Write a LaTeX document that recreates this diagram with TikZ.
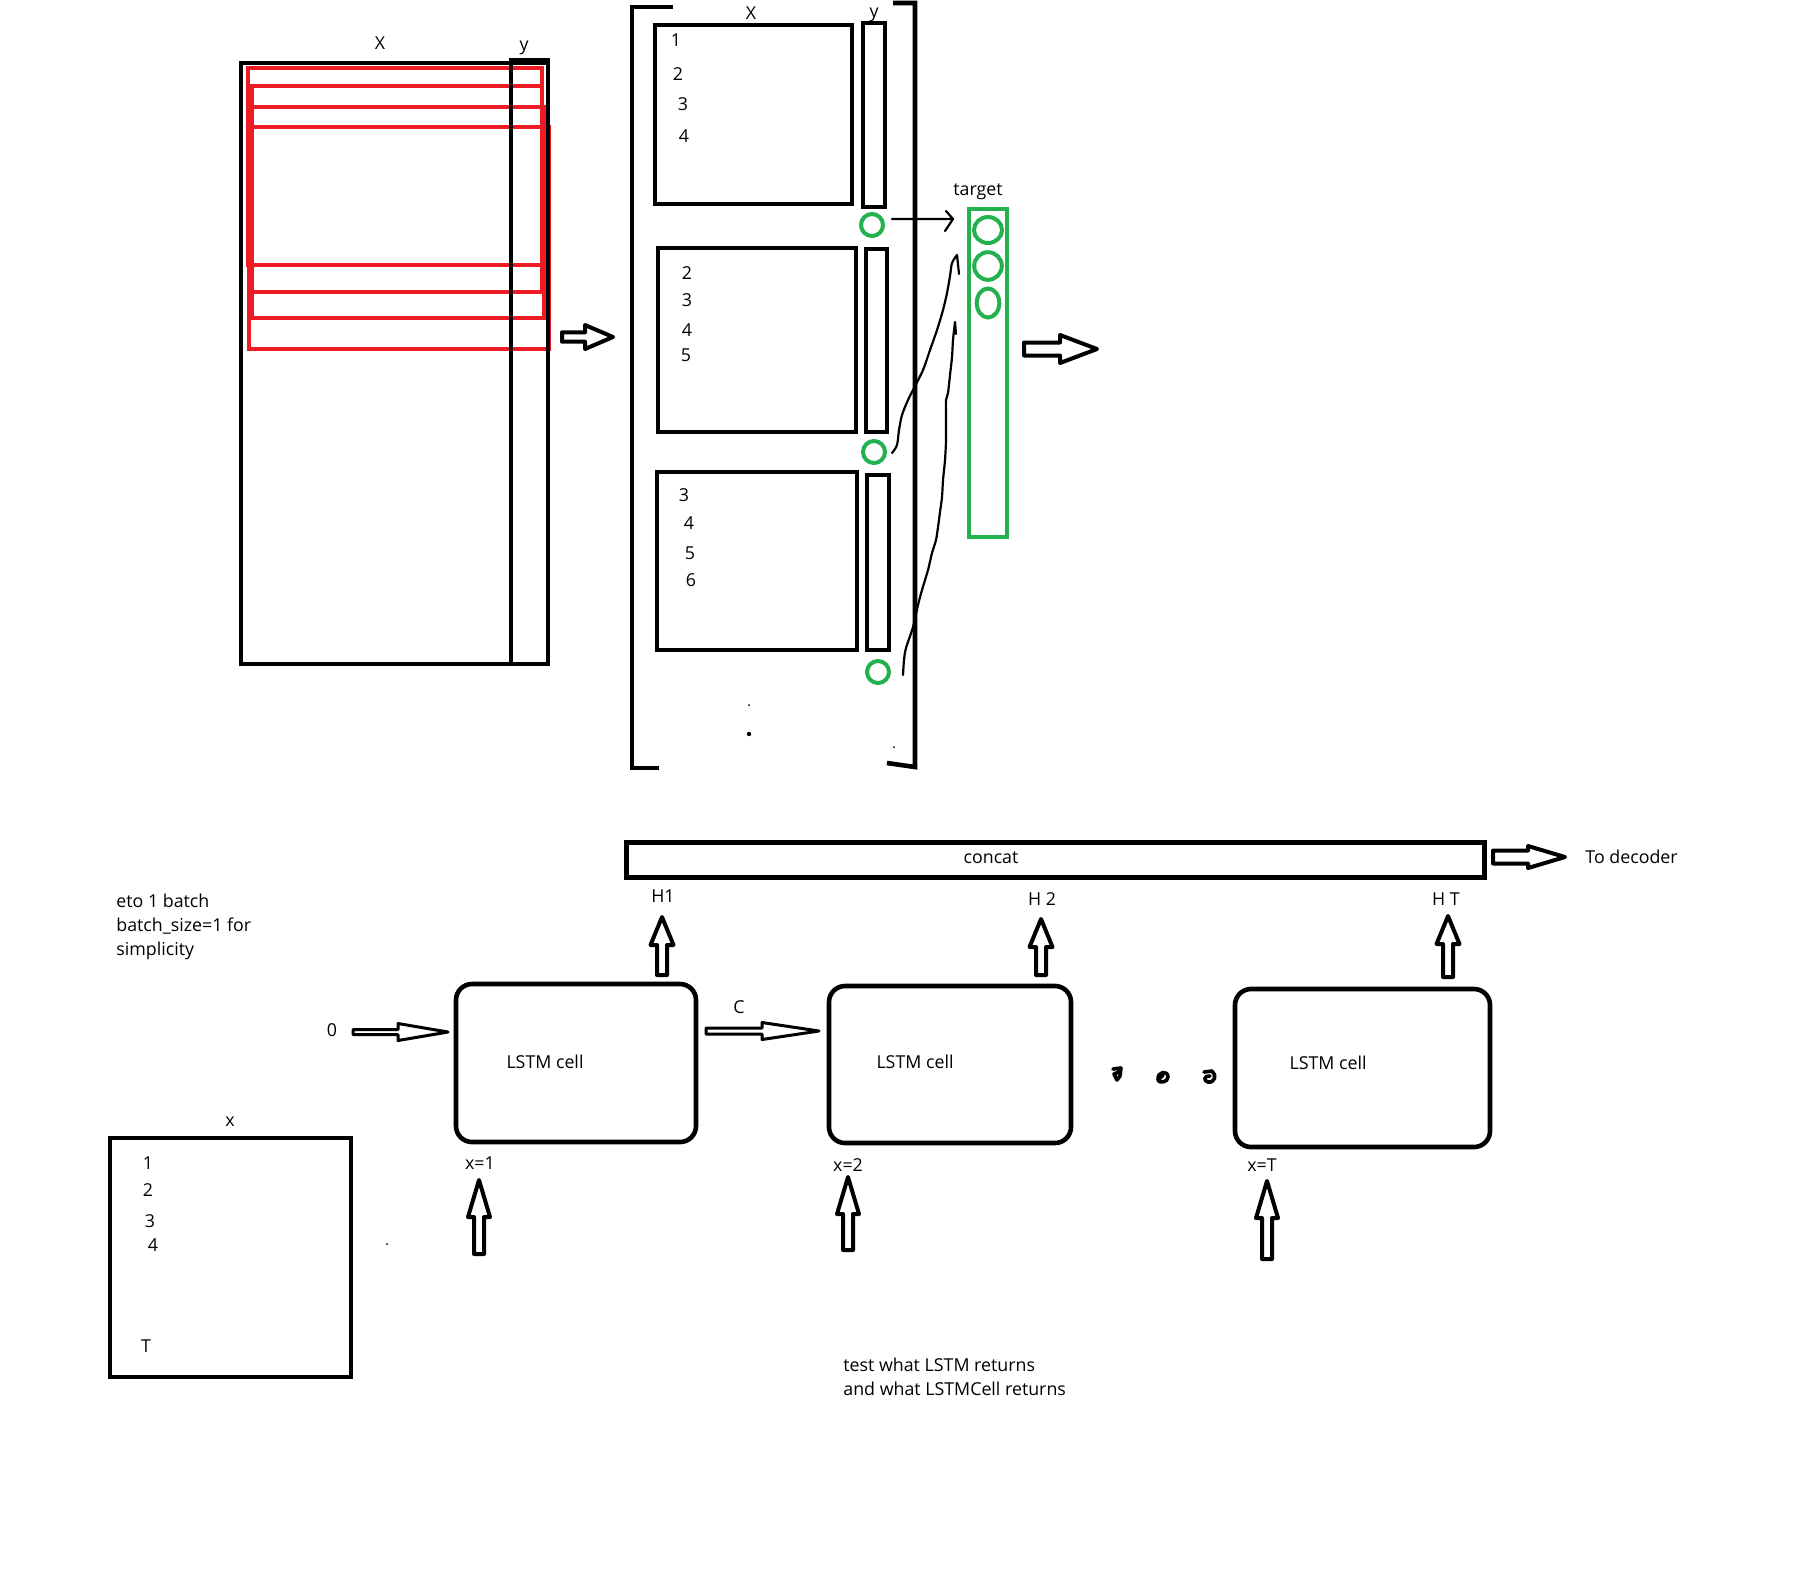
\documentclass[tikz,border=0pt]{standalone}
\usepackage{fontspec}
\setmainfont{Open Sans}
\usetikzlibrary{fit,shapes.geometric}
\definecolor{pred}{RGB}{237,28,36}
\definecolor{pgreen}{RGB}{34,177,76}

\tikzset{
  blk/.style={draw=black, line width=2.3pt, inner sep=0pt, outer sep=0pt},
  redbox/.style={draw=pred, line width=2.1pt, inner sep=0pt, outer sep=0pt},
  gline/.style={draw=pgreen, line width=2pt, inner sep=0pt, outer sep=0pt},
  gcirc/.style={gline, circle, minimum size=11pt},
  gell/.style={gline, ellipse},
  cell/.style={draw=black, line width=2.3pt, rounded corners=8pt, inner sep=0pt},
  lbl/.style={inner sep=0pt, font=\fontsize{8.9}{12}\selectfont},
  hand/.style={draw=black, line width=1.1pt, line cap=round, line join=round},
  arrowline/.style={draw=black, fill=white, line width=2pt, line join=round},
  thinarrow/.style={arrowline, line width=1.5pt},
  % hollow block arrow: length, shaft half-width, head half-width, head length
  pics/blockarrow/.style n args={4}{code={
    \path[pic actions] (0,-#2) -- ({#1-#4},-#2) -- ({#1-#4},-#3) -- (#1,0)
      -- ({#1-#4},#3) -- ({#1-#4},#2) -- (0,#2) -- cycle;}},
}

\begin{document}
\begin{tikzpicture}[x=0.5pt, y=-0.5pt]
\useasboundingbox (0,0) rectangle (1802,1587);
\fill[white] (0,0) rectangle (1802,1587);

% ---------- data matrix with sliding windows ----------
\node[redbox, fit={(248,68)(542,265)}] (w1) {};
\node[redbox, fit={(252,86)(542,292)}] (w2) {};
\node[redbox, fit={(252,107)(544,318)}] (w3) {};
\node[redbox, fit={(249,127)(549,349)}] (w4) {};
\node[blk, fit={(241,63)(548,664)}] (mat) {};
\node[blk, fit={(511,60)(548,664)}] (matY) {};
\node[lbl] (matXl) at (380,43) {X};
\node[lbl] (matYl) at (524,48) {y};

% ---------- batch of windows ----------
\draw[blk] (673,7) -- (632,7) -- (632,768) -- (659,768);
\draw[blk] (893,3) -- (915,3) -- (915,767) -- (887,763);

\node[blk, fit={(655,25)(852,204)}] (b1) {};
\node[blk, fit={(863,23)(885,207)}] (y1) {};
\node[blk, fit={(658,248)(856,432)}] (b2) {};
\node[blk, fit={(866,249)(887,432)}] (y2) {};
\node[blk, fit={(657,472)(857,650)}] (b3) {};
\node[blk, fit={(867,475)(889,650)}] (y3) {};

\node[lbl] (bXl) at (751,13) {X};
\node[lbl] (bYl) at (874,15) {y};

\node[lbl] (n11) at (676,40) {1};
\node[lbl] (n12) at (678,74) {2};
\node[lbl] (n13) at (683,104) {3};
\node[lbl] (n14) at (684,136) {4};
\node[lbl] (n21) at (687,273) {2};
\node[lbl] (n22) at (687,300) {3};
\node[lbl] (n23) at (687,330) {4};
\node[lbl] (n24) at (686,355) {5};
\node[lbl] (n31) at (684,495) {3};
\node[lbl] (n32) at (689,523) {4};
\node[lbl] (n33) at (690,553) {5};
\node[lbl] (n34) at (691,580) {6};

\node[gcirc] (g1) at (872,225) {};
\node[gcirc] (g2) at (874,452) {};
\node[gcirc] (g3) at (878,672) {};

\fill (749,705) circle (1);
\fill (749,734) circle (2.2);
\fill (894,747) circle (1);

% ---------- target column ----------
\node[lbl] (tgtl) at (978,192) {target};
\node[gline, line width=2.4pt, fit={(969,209)(1007,537)}] (tgt) {};
\node[gell, minimum width=14pt, minimum height=13pt] (t1) at (988,230) {};
\node[gell, minimum width=13.8pt, minimum height=13.8pt] (t2) at (988,266) {};
\node[gell, minimum width=11.3pt, minimum height=14.5pt] (t3) at (988,303) {};

\coordinate (a1s) at (892,219);
\coordinate (a1e) at (953,219);
\draw[hand] (a1s) -- (a1e) (946,211) -- (a1e) -- (945,231);

\coordinate (c2s) at (892,453);
\coordinate (c2e) at (957,255);
\draw[hand] plot[smooth, tension=0.5] coordinates {(892,453) (897,445) (899,430) (902,415)
  (908,400) (914,388) (923,370) (930,350) (937,330) (943,310) (947,293) (950,276)
  (952,263) (957,255)} -- (959,274);

\coordinate (c3s) at (903,675);
\draw[hand] plot[smooth, tension=0.5] coordinates {(903,675) (904,660) (906,648) (913,627)
  (918,605) (922,590) (928,570) (932,553) (936,540) (938,527) (940,512) (942,497)
  (943,480) (945,460) (946,440) (946,420) (946,400) (948,393) (950,375) (952,357)
  (953,340) (955,322)} -- (956,334);

% ---------- hollow arrows, upper part ----------
\pic[arrowline] at (562,337) {blockarrow={51}{4.7}{12}{28}};
\pic[arrowline] at (1024,349) {blockarrow={73}{6.5}{14}{37}};

% ---------- encoder ----------
\node[draw=black, line width=2.5pt, inner sep=0pt, fit={(626,842)(1484,877)}] (concat) {};
\node[lbl] (concatl) at (991,858) {concat};
\pic[arrowline] at (1493,857) {blockarrow={72}{6.5}{11}{37}};
\node[lbl, anchor=west] (dec) at (1585,857) {To decoder};

\node[lbl] (h1) at (663,896) {H1};
\node[lbl] (h2) at (1042,899) {H 2};
\node[lbl] (hT) at (1446,899) {H T};
\pic[arrowline, rotate=90] at (662,975) {blockarrow={58}{5}{11.5}{28}};
\pic[arrowline, rotate=90] at (1041,975) {blockarrow={56}{5}{11.5}{28}};
\pic[arrowline, rotate=90] at (1448,977) {blockarrow={61}{5}{11.5}{28}};

\node[lbl, anchor=north west, align=left] (note) at (116,894)
  {eto 1 batch\\batch\_size=1 for\\simplicity};

\node[cell, fit={(456,984)(696,1142)}] (cell1) {};
\node[cell, fit={(829,986)(1071,1143)}] (cell2) {};
\node[cell, fit={(1235,989)(1490,1147)}] (cell3) {};
\node[lbl] (cl1) at (545,1062) {LSTM cell};
\node[lbl] (cl2) at (915,1062) {LSTM cell};
\node[lbl] (cl3) at (1328,1063) {LSTM cell};

\node[lbl] (zero) at (332,1030) {0};
\pic[thinarrow] at (353,1032) {blockarrow={95}{2.5}{8.5}{50}};
\node[lbl] (cee) at (739,1007) {C};
\pic[thinarrow] at (706,1031) {blockarrow={113}{3}{8.5}{57}};

% hand-drawn ellipsis between the cells
\draw[hand, line width=1.8pt] (1113,1069) -- (1121,1068) -- (1120,1076) -- (1117,1080)
  -- (1114,1074) -- (1119,1072);
\draw[hand, line width=1.8pt] (1158,1080) .. controls (1157,1071) and (1168,1070) .. (1168,1077)
  .. controls (1168,1083) and (1158,1083) .. (1158,1080) -- (1163,1075);
\draw[hand, line width=1.8pt] (1204,1072) -- (1212,1071) .. controls (1217,1075) and (1215,1083) .. (1208,1082)
  .. controls (1203,1081) and (1204,1075) .. (1210,1076);

\node[lbl] (x1) at (480,1163) {x=1};
\node[lbl] (x2) at (848,1165) {x=2};
\node[lbl] (xT) at (1262,1165) {x=T};
\pic[arrowline, rotate=90] at (479,1254) {blockarrow={74}{5}{11}{37}};
\pic[arrowline, rotate=90] at (848,1250) {blockarrow={73}{5}{11}{37}};
\pic[arrowline, rotate=90] at (1267,1259) {blockarrow={78}{5}{11}{37}};

% ---------- input sequence ----------
\node[lbl] (xl) at (230,1122) {x};
\node[blk, fit={(110,1138)(351,1377)}] (xbox) {};
\node[lbl] (s1) at (148,1163) {1};
\node[lbl] (s2) at (148,1190) {2};
\node[lbl] (s3) at (150,1221) {3};
\node[lbl] (s4) at (153,1245) {4};
\node[lbl] (sT) at (146,1346) {T};
\fill (387,1244) circle (1);

\node[lbl, anchor=north west, align=left] (test) at (843,1358)
  {test what LSTM returns\\and what LSTMCell returns};
\end{tikzpicture}
\end{document}
